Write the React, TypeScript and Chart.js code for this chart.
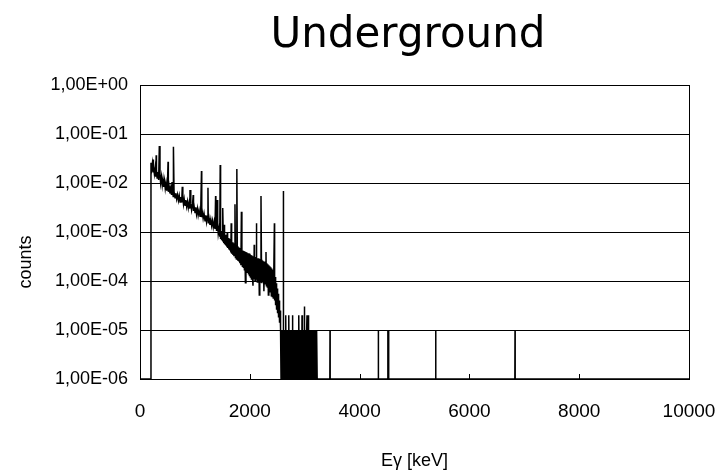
import { useEffect, useRef } from "react";
import { Chart, registerables } from "chart.js";

Chart.register(...registerables);

// ---- Spectrum data ----------------------------------------------------------

// Continuum: noisy band traced as alternating upper / lower points (keV, counts)
const continuumKeV = [
  200, 212, 225, 237, 250, 262, 275, 287, 300, 312, 325, 340,
  364, 376, 390, 405, 419, 432, 446, 460, 474, 488, 500, 516,
  530, 546, 560, 575, 590, 605, 620, 638, 652, 668, 684, 700,
  715, 729, 745, 760, 780, 792, 805, 820, 835, 850, 866, 880,
  896, 908, 925, 940, 956, 975, 985, 1002, 1016, 1030, 1046, 1060,
  1076, 1093, 1106, 1125, 1136, 1150, 1166, 1184, 1198, 1212, 1228, 1244,
  1258, 1275, 1290, 1305, 1320, 1335, 1350, 1366, 1382, 1395, 1415, 1425,
  1440, 1450, 1457, 1468, 1478, 1487, 1496, 1505, 1516, 1525, 1535, 1544,
  1553, 1562, 1572, 1581, 1592, 1600, 1610, 1619, 1628, 1637, 1646, 1655,
  1665, 1674, 1684, 1693, 1702, 1711, 1720, 1738, 1747, 1756, 1772, 1782,
  1791, 1800, 1810, 1819, 1828, 1838, 1856, 1865, 1874, 1884, 1893, 1902,
  1911, 1920, 1930, 1939, 1948, 1957, 1966, 1976, 1985, 1994, 2003, 2012,
  2021, 2030, 2040, 2049, 2058, 2067, 2076, 2086, 2095, 2104, 2113, 2128,
  2137, 2146, 2155, 2164, 2173, 2182, 2191, 2212, 2221, 2230, 2239, 2248,
  2257, 2266, 2275, 2284, 2302, 2311, 2320, 2329, 2338, 2347, 2356, 2365,
  2374, 2383, 2392, 2401, 2410, 2419, 2428, 2437, 2452, 2461, 2470, 2479,
  2488, 2497, 2506, 2515, 2524, 2533, 2542, 2552, 2560,
];
const continuumCounts = [
  0.026, 0.019, 0.025, 0.017, 0.022, 0.0153, 0.02, 0.0135, 0.0185, 0.0126, 0.0168, 0.0115,
  0.0146, 0.01, 0.0135, 0.009, 0.0121, 0.0083, 0.0112, 0.0077, 0.01, 0.007, 0.0092, 0.0066,
  0.0086, 0.0061, 0.0078, 0.0057, 0.0072, 0.0053, 0.0067, 0.005, 0.0062, 0.0047, 0.0058, 0.0044,
  0.0055, 0.0041, 0.0052, 0.004, 0.0049, 0.0037, 0.0047, 0.0035, 0.0045, 0.0033, 0.0042, 0.0031,
  0.004, 0.003, 0.0038, 0.0028, 0.0036, 0.0027, 0.0034, 0.0025, 0.0032, 0.0023, 0.003, 0.0022,
  0.0028, 0.0021, 0.0027, 0.002, 0.0025, 0.0019, 0.0024, 0.0017, 0.0022, 0.0016, 0.0021, 0.0015,
  0.0019, 0.0014, 0.0018, 0.00135, 0.0017, 0.00125, 0.0016, 0.00115, 0.0015, 0.00105, 0.0014, 0.00092,
  0.0012, 0.0008, 0.0011, 0.00072, 0.00105, 0.00068, 0.001, 0.00064, 0.00095, 0.0006, 0.0009, 0.00056,
  0.00088, 0.00053, 0.00084, 0.0005, 0.00078, 0.00047, 0.00075, 0.00044, 0.00072, 0.00042, 0.00069, 0.00038,
  0.00066, 0.00036, 0.00062, 0.00034, 0.00059, 0.00032, 0.00057, 0.0003, 0.00054, 0.00028, 0.00051, 0.00026,
  0.00049, 0.00025, 0.00047, 0.00023, 0.00045, 0.00021, 0.00043, 0.0002, 0.00042, 0.00019, 0.00041, 0.00017,
  0.0004, 0.000092, 0.00039, 0.00016, 0.00038, 0.00015, 0.00037, 0.00014, 0.00037, 0.00013, 0.00036, 0.00012,
  0.00034, 0.00011, 0.00033, 0.00012, 0.00008, 0.00032, 0.00011, 0.00031, 0.0001, 0.00031, 0.00011, 0.0003,
  0.000095, 0.00029, 0.0001, 0.00029, 0.000052, 0.00028, 0.000095, 0.00027, 0.00009, 0.00026, 0.0001, 0.00025,
  0.000062, 0.00025, 0.000085, 0.00024, 0.00008, 0.00023, 0.000075, 0.00022, 0.000052, 0.00021, 0.000065, 0.0002,
  0.00006, 0.00019, 0.00005, 0.00018, 0.000048, 0.00017, 0.000045, 0.00015, 0.00004, 0.00012, 0.000032, 0.00009,
  0.000026, 0.00007, 0.000022, 0.000055, 0.000018, 0.00004, 0.000014, 0.000025, 0.000011,
];

// Gamma lines standing out of the continuum (keV, peak counts)
const lineKeV = [
  238, 295, 352, 511, 583, 609, 770, 911, 969, 1120, 1238, 1377, 1408, 1461,
  1509, 1536, 1590, 1661, 1730, 1764, 1847, 2080, 2118, 2204, 2295, 2448, 2614,
];
const lineCounts = [
  0.03, 0.037, 0.057, 0.027, 0.0105, 0.055, 0.0084, 0.0072, 0.0057, 0.0176, 0.008, 0.0054, 0.0045, 0.0233,
  0.0031, 0.0014, 0.001, 0.0015, 0.0037, 0.0193, 0.0026, 0.00055, 0.0015, 0.0054, 0.00039, 0.0015, 0.0069,
];

// High-energy region: bins holding a single count
const singleCountKeV = [
  2572, 2586, 2598, 2611, 2626, 2640, 2652, 2667, 2680, 2694, 2708, 2722,
  2735, 2750, 2763, 2777, 2791, 2805, 2818, 2832, 2846, 2860, 2873, 2888,
  2902, 2915, 2930, 2944, 2958, 2971, 2986, 3000, 3013, 3028, 3041, 3055,
  3069, 3090, 3104, 3118, 3131, 3146, 3160, 3174, 3196, 3210, 3224,
  3461, 4341, 4515, 4530, 5386, 6831,
];
const singleCount = 1e-5;

// High-energy bins holding more than one count
const multiCountKeV = [2659, 2714, 2781, 2896, 2951, 2993, 3042, 3070];
const multiCounts = [2e-5, 2e-5, 2e-5, 2e-5, 2e-5, 3e-5, 2e-5, 2e-5];

// Empty bins sit on the lower edge of the log axis
const emptyBinLevel = 1e-6;
const spectrumStartKeV = 195;
const spectrumEndKeV = 10000;

// ---- Axes ------------------------------------------------------------------
const xTickValues = [0, 2000, 4000, 6000, 8000, 10000];
const yTickValues = [1e-6, 1e-5, 1e-4, 1e-3, 1e-2, 1e-1, 1];
const yTickLabels = ["1,00E-06", "1,00E-05", "1,00E-04", "1,00E-03", "1,00E-02", "1,00E-01", "1,00E+00"];

const chartTitle = "Underground";
const xAxisTitle = "Eγ [keV]";
const yAxisTitle = "counts";

type Pt = { x: number; y: number };

function buildSpectrum(): Pt[] {
  const pts: Pt[] = [
    { x: 0, y: emptyBinLevel },
    { x: spectrumStartKeV, y: emptyBinLevel },
  ];
  continuumKeV.forEach((e, i) => pts.push({ x: e, y: continuumCounts[i] }));
  lineKeV.forEach((e, i) => pts.push({ x: e, y: lineCounts[i] }));
  const halfBin = 3;
  const addBin = (e: number, c: number) => {
    pts.push({ x: e - halfBin, y: emptyBinLevel }, { x: e, y: c }, { x: e + halfBin, y: emptyBinLevel });
  };
  singleCountKeV.forEach((e) => addBin(e, singleCount));
  multiCountKeV.forEach((e, i) => addBin(e, multiCounts[i]));
  pts.push({ x: spectrumEndKeV, y: emptyBinLevel });
  pts.sort((a, b) => a.x - b.x);
  return pts;
}

// Title, rotated y title, plot frame and inner x tick marks
const decorations = {
  id: "decorations",
  afterDraw(chart: any) {
    const { ctx, chartArea } = chart;
    const xScale = chart.scales.x;
    ctx.save();
    ctx.strokeStyle = "#000";
    ctx.lineWidth = 1;
    ctx.strokeRect(
      Math.round(chartArea.left) + 0.5,
      Math.round(chartArea.top) + 0.5,
      Math.round(chartArea.right - chartArea.left),
      Math.round(chartArea.bottom - chartArea.top)
    );
    ctx.beginPath();
    xTickValues.forEach((v) => {
      const px = Math.round(xScale.getPixelForValue(v)) + 0.5;
      ctx.moveTo(px, chartArea.bottom);
      ctx.lineTo(px, chartArea.bottom - 5);
    });
    ctx.stroke();

    ctx.fillStyle = "#000";
    ctx.font = '42px "DejaVu Sans"';
    ctx.textAlign = "center";
    ctx.textBaseline = "alphabetic";
    ctx.fillText(chartTitle, 408, 47);

    ctx.translate(26, 262);
    ctx.rotate(-Math.PI / 2);
    ctx.font = '18px "Liberation Sans"';
    ctx.textBaseline = "middle";
    ctx.fillText(yAxisTitle, 0, 0);
    ctx.restore();
  },
};

export default function App() {
  const canvasRef = useRef<HTMLCanvasElement | null>(null);

  useEffect(() => {
    if (!canvasRef.current) return;
    const chart = new Chart(canvasRef.current, {
      type: "line",
      data: {
        datasets: [
          {
            data: buildSpectrum(),
            borderColor: "#000",
            borderWidth: 1.5,
            pointRadius: 0,
            tension: 0,
            fill: false,
          },
        ],
      },
      options: {
        animation: false,
        responsive: false,
        parsing: false,
        normalized: true,
        layout: { padding: { top: 85, right: 29, left: 0, bottom: 0 } },
        plugins: {
          legend: { display: false },
          tooltip: { enabled: false },
          title: { display: false },
        },
        scales: {
          x: {
            type: "linear",
            min: 0,
            max: 10000,
            afterBuildTicks: (scale: any) => {
              scale.ticks = xTickValues.map((v) => ({ value: v }));
            },
            afterFit: (scale: any) => {
              scale.height = 97;
              scale.paddingLeft = 0;
              scale.paddingRight = 0;
            },
            grid: { display: false, drawTicks: false },
            border: { display: true, color: "#000", width: 1 },
            ticks: {
              padding: 21,
              color: "#000",
              font: { family: "Liberation Sans", size: 19 },
              maxRotation: 0,
              callback: (v: any) => String(v),
            },
            title: {
              display: true,
              text: xAxisTitle,
              color: "#000",
              font: { family: "Liberation Sans", size: 18 },
              padding: { top: 0, bottom: 4 },
            },
          },
          y: {
            type: "logarithmic",
            min: 1e-6,
            max: 1,
            afterBuildTicks: (scale: any) => {
              scale.ticks = yTickValues.map((v) => ({ value: v }));
            },
            afterFit: (scale: any) => {
              scale.width = 140;
              scale.paddingTop = 0;
              scale.paddingBottom = 0;
            },
            grid: { color: "#000", lineWidth: 1, drawTicks: false },
            border: { display: true, color: "#000", width: 1 },
            ticks: {
              padding: 12,
              color: "#000",
              font: { family: "Liberation Sans", size: 18 },
              callback: (_v: any, i: number) => yTickLabels[i],
            },
          },
        },
      },
      plugins: [decorations],
    });
    return () => chart.destroy();
  }, []);

  return (
    <div style={{ position: "fixed", left: 0, top: 0, width: 718, height: 476, background: "#fff" }}>
      <canvas ref={canvasRef} width={718} height={476} style={{ display: "block" }} />
    </div>
  );
}
